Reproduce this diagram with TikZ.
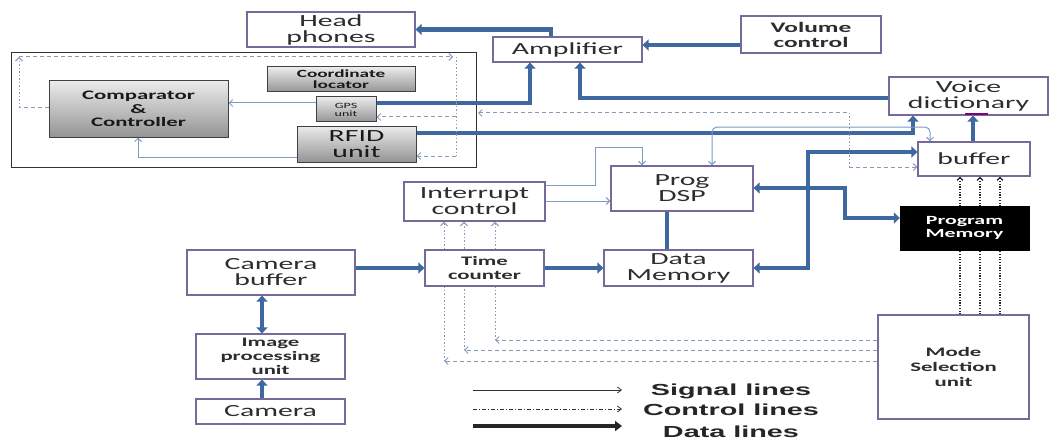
\documentclass[tikz,border=0pt]{standalone}
\usepackage{fontspec}
\usetikzlibrary{arrows.meta}
\newfontfamily\boxfont{Carlito}[FakeStretch=1.75]
\newfontfamily\legfont{Liberation Sans}[FakeStretch=1.8]
\definecolor{boxc}{RGB}{120,105,155}
\definecolor{datc}{RGB}{62,104,160}
\definecolor{sigc}{RGB}{125,155,195}
\definecolor{ctlc}{RGB}{135,155,185}
\definecolor{txtc}{RGB}{45,45,45}
\pgfdeclarelayer{panellayer}
\pgfdeclarelayer{linelayer}
\pgfsetlayers{panellayer,linelayer,main}
\tikzset{
  dtip/.tip={Triangle[length=6pt,width=11pt]},
  stip/.tip={Straight Barb[length=3.5pt,width=7pt]},
  blk/.style={draw=boxc, line width=1.2pt, fill=white, inner sep=0pt, align=center, text=txtc,
    font=\boxfont\fontsize{17}{16}\selectfont},
  bblk/.style={blk, font=\boxfont\bfseries\fontsize{13}{14}\selectfont},
  gbox/.style={draw=black!75, line width=1pt, top color=black!8, bottom color=black!42,
    inner sep=0pt, align=center, text=black!90},
  dat/.style={draw=datc, line width=4.5pt, -{dtip}},
  sig/.style={draw=sigc, line width=1pt, -{stip}},
  ctl/.style={draw=ctlc, line width=1pt, dash pattern=on 4pt off 3pt, -{stip}},
  ctlv/.style={draw=ctlc, line width=1pt, dash pattern=on 1.5pt off 2pt},
  mdot/.style={draw=black!85, line width=1.2pt, dash pattern=on 1.2pt off 1.5pt,
    -{Straight Barb[length=3pt,width=6pt]}},
}
\begin{document}
\begin{tikzpicture}[x=1pt,y=-1pt]
\useasboundingbox (0,0) rectangle (1051,441);
\begin{pgfonlayer}{panellayer}
  \fill[white] (0,0) rectangle (1051,441);
  \node[draw=black!80, line width=0.8pt, minimum width=465pt, minimum height=115pt, inner sep=0pt] (panel) at (243.5,109.5) {};
\end{pgfonlayer}

% ---------- boxes ----------
\node[blk, minimum width=168pt, minimum height=35pt] (hp) at (331,29.5) {Head\\phones};
\node[blk, minimum width=149pt, minimum height=25pt] (amp) at (567.5,49.5) {Amplifier};
\node[bblk, minimum width=140pt, minimum height=37pt, font=\boxfont\bfseries\fontsize{14.5}{15}\selectfont] (vol) at (811,34.5) {Volume\\control};
\node[blk, minimum width=159pt, minimum height=38pt] (voice) at (968.5,96) {Voice\\dictionary};
\node[blk, minimum width=112pt, minimum height=34pt] (buf) at (974,159) {buffer};
\node[draw=black, fill=black, text=white, inner sep=0pt, align=center, minimum width=129pt, minimum height=44pt,
  font=\boxfont\bfseries\fontsize{12.5}{13.5}\selectfont] (pm) at (964.5,228) {Program\\Memory};
\node[bblk, minimum width=151pt, minimum height=104pt, font=\boxfont\bfseries\fontsize{13}{15}\selectfont] (mode) at (953.5,367) {Mode\\Selection\\unit};
\node[blk, minimum width=142pt, minimum height=45pt] (dsp) at (682,188.5) {Prog\\DSP};
\node[blk, minimum width=149pt, minimum height=36pt] (dm) at (678.5,268) {Data\\Memory};
\node[blk, minimum width=141pt, minimum height=39pt] (ic) at (474.5,201.5) {Interrupt\\control};
\node[bblk, minimum width=119pt, minimum height=36pt] (tc) at (484.5,268) {Time\\counter};
\node[blk, minimum width=168pt, minimum height=45pt] (cb) at (271,272.5) {Camera\\buffer};
\node[bblk, minimum width=149pt, minimum height=45pt] (ip) at (270.5,356.5) {Image\\processing\\unit};
\node[blk, minimum width=149pt, minimum height=25pt] (cam) at (270.5,411.5) {Camera};

\node[gbox, minimum width=179pt, minimum height=56pt, font=\boxfont\bfseries\fontsize{13}{13.5}\selectfont] (cc) at (138.5,109) {Comparator\\\&\\Controller};
\node[gbox, minimum width=148pt, minimum height=25pt, font=\boxfont\bfseries\fontsize{11}{11}\selectfont] (cl) at (341,79.5) {Coordinate\\locator};
\node[gbox, minimum width=60pt, minimum height=25pt, font=\boxfont\fontsize{8}{8}\selectfont] (gps) at (346,109.5) {GPS\\unit};
\node[gbox, minimum width=119pt, minimum height=36pt, font=\boxfont\fontsize{17}{16}\selectfont] (rfid) at (356.5,144) {RFID\\unit};

\draw[violet, line width=1.5pt] (965,114) -- (988,114);

\begin{pgfonlayer}{linelayer}
% ---------- data lines ----------
\draw[dat] (551,0 |- amp.north) |- (hp.east);
\draw[dat] (vol.west |- 0,45) -- (amp.east |- 0,45);
\draw[dat] (gps.east |- 0,103) -| (530,0 |- amp.south);
\draw[dat] (voice.west |- 0,98) -| (580,0 |- amp.south);
\draw[dat] (rfid.east |- 0,133) -| (913,0 |- voice.south);
\draw[dat] (973,0 |- buf.north) -- (973,0 |- voice.south);
\draw[dat, {dtip}-{dtip}] (dm.east) -| (808,152) -- (buf.west |- 0,152);
\draw[dat, {dtip}-{dtip}] (dsp.east |- 0,188) -| (845,218) -- (pm.west |- 0,218);
\draw[dat, -] (667,0 |- dsp.south) -- (667,0 |- dm.north);
\draw[dat] (tc.east) -- (dm.west);
\draw[dat] (cb.east |- tc.west) -- (tc.west);
\draw[dat] (262,0 |- cam.north) -- (262,0 |- ip.south);
\draw[dat, {dtip}-{dtip}] (262,0 |- ip.north) -- (262,0 |- cb.south);

% ---------- signal lines ----------
\draw[sig] (gps.west |- 0,103) -- (cc.east |- 0,103);
\draw[sig] (rfid.west |- 0,157) -| (138,0 |- cc.south);
\draw[sig] (ic.east |- 0,201) -- (dsp.west |- 0,201);
\draw[sig] (ic.east |- 0,185) -| (595,147) -| (642,0 |- dsp.north);
\draw[sig, {stip}-{stip}, rounded corners=5pt] (712,0 |- dsp.north) |- (930,127) -- (930,0 |- buf.north);

% ---------- control lines ----------
\coordinate (pA) at (19,108);
\coordinate (pB) at (19,57);
\coordinate (pC) at (456,57);
\coordinate (pD) at (456,117);
\coordinate (pE) at (456,156);
\draw[ctl, -] (cc.west |- pA) -- (pA);
\draw[ctlv, -{stip}] (pA) -- (pB);
\draw[ctl] (pB) -- (453,57);
\draw[ctlv] (pC) -- (pE);
\draw[ctl] (pD) -- (gps.east |- pD);
\draw[ctl] (pE) -- (rfid.east |- pE);

\coordinate (qA) at (478,113);
\coordinate (qB) at (849,113);
\coordinate (qC) at (849,167);
\draw[ctl, {stip}-] (qA) -- (qB);
\draw[ctlv] (qB) -- (qC);
\draw[ctl] (qC) -- (buf.west |- qC);

\foreach \x/\y in {495/340, 464/350, 444/361} {
  \draw[ctl] (mode.west |- 0,\y) -- (\x,\y);
  \draw[ctlv, -{stip}] (\x,\y) -- (\x,0 |- ic.south);
}

\foreach \x in {960,980,1000} {
  \draw[mdot] (\x,0 |- mode.north) -- (\x,0 |- buf.south);
}
\end{pgfonlayer}

% ---------- legend ----------
\coordinate (sgA) at (473,390); \coordinate (sgB) at (622,390);
\coordinate (ctA) at (473,409); \coordinate (ctB) at (622,409);
\coordinate (dtA) at (473,426); \coordinate (dtB) at (622,426);
\draw[black!80, line width=0.8pt, -{Straight Barb[length=4pt,width=6pt]}] (sgA) -- (sgB);
\draw[black!80, line width=0.8pt, dash pattern=on 4pt off 2pt on 1pt off 2pt, -{Straight Barb[length=4pt,width=6pt]}] (ctA) -- (ctB);
\draw[black!85, line width=3.5pt, -{Triangle[length=7pt,width=10pt]}] (dtA) -- (dtB);
\tikzset{leg/.style={font=\legfont\bfseries\fontsize{16}{16}\selectfont, text=black!85, inner sep=0pt}}
\node[leg] (lsig) at (731,391) {Signal lines};
\node[leg] (lctl) at (731,410) {Control lines};
\node[leg] (ldat) at (731,432) {Data lines};
\end{tikzpicture}
\end{document}
